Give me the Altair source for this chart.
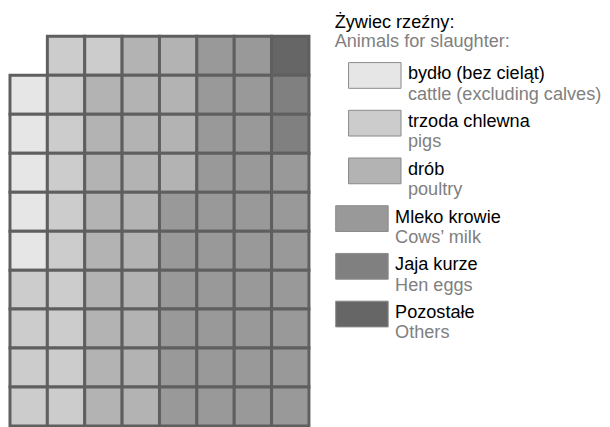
import altair as alt
import pandas as pd

FONT = "Liberation Sans"
FS = 18.3

categories = ["bydlo", "trzoda", "drob", "mleko", "jaja", "pozostale"]
labels_pl = ["bydło (bez cieląt)", "trzoda chlewna", "drób", "Mleko krowie", "Jaja kurze", "Pozostałe"]
labels_en = ["cattle (excluding calves)", "pigs", "poultry", "Cows’ milk", "Hen eggs", "Others"]
colors = ["#e6e6e6", "#cccccc", "#b3b3b3", "#999999", "#808080", "#666666"]
is_animal = [True, True, True, False, False, False]

header_pl = "Żywiec rzeźny:"
header_en = "Animals for slaughter:"

# waffle grid, read row by row from top (C=cattle, P=pigs, D=poultry, M=milk, E=eggs, O=others, -=empty)
grid_rows = [
    "-PPDDMMO",
    "CPDDDMME",
    "CPDDDMME",
    "CPDDDMMM",
    "CPDDMMMM",
    "CPDDMMMM",
    "PPDDMMMM",
    "PPDDMMMM",
    "PPDDMMMM",
    "PPDDMMMM",
]
code_map = {"C": "bydlo", "P": "trzoda", "D": "drob", "M": "mleko", "E": "jaja", "O": "pozostale"}

cells = []
for r, row in enumerate(grid_rows):
    for c, ch in enumerate(row):
        if ch == "-":
            continue
        cells.append({"c0": c, "c1": c + 1, "r0": r, "r1": r + 1, "cat": code_map[ch]})
cells_df = pd.DataFrame(cells)

legend_df = pd.DataFrame({
    "idx": list(range(len(categories))),
    "cat": categories,
    "pl": labels_pl,
    "en": labels_en,
    "animal": is_animal,
})

color_scale = alt.Scale(domain=categories, range=colors)

waffle = alt.Chart(cells_df).mark_rect(stroke="#5f5f5f", strokeWidth=3).encode(
    x=alt.X("c0:Q", scale=alt.Scale(domain=[0, 8]), axis=None),
    x2="c1:Q",
    y=alt.Y("r0:Q", scale=alt.Scale(domain=[0, 10], range=[-15.5, 378.1]), axis=None),
    y2="r1:Q",
    color=alt.Color("cat:N", scale=color_scale, legend=None),
).properties(width=302, height=378)

leg_y = alt.Scale(domain=[0, 5], range=[24, 265])
ybase = alt.Y("idx:Q", scale=leg_y, axis=None)

base = alt.Chart(legend_df)
animals = base.transform_filter("datum.animal")
others = base.transform_filter("!datum.animal")

sw_a = animals.mark_rect(height=26, stroke="#8a8a8a", strokeWidth=1).encode(
    x=alt.value(17), x2=alt.value(70), y=ybase,
    color=alt.Color("cat:N", scale=color_scale, legend=None))
sw_o = others.mark_rect(height=26, stroke="#8a8a8a", strokeWidth=1).encode(
    x=alt.value(4), x2=alt.value(57), y=ybase,
    color=alt.Color("cat:N", scale=color_scale, legend=None))

txt_kw = dict(align="left", baseline="alphabetic", fontSize=FS, font=FONT)
pl_a = animals.mark_text(dy=4, color="#000000", **txt_kw).encode(x=alt.value(77), y=ybase, text="pl:N")
en_a = animals.mark_text(dy=24.5, color="#808080", **txt_kw).encode(x=alt.value(77), y=ybase, text="en:N")
pl_o = others.mark_text(dy=4, color="#000000", **txt_kw).encode(x=alt.value(64), y=ybase, text="pl:N")
en_o = others.mark_text(dy=24.5, color="#808080", **txt_kw).encode(x=alt.value(64), y=ybase, text="en:N")

legend_panel = alt.layer(sw_a, sw_o, pl_a, en_a, pl_o, en_o).properties(
    width=250, height=320,
    title=alt.Title(header_pl, subtitle=header_en, anchor="start", fontSize=FS,
                    fontWeight="normal", color="#000000", font=FONT, dx=3,
                    subtitleFontSize=FS, subtitleColor="#808080", subtitleFont=FONT,
                    subtitlePadding=1, offset=0),
)

chart = alt.hconcat(waffle, legend_panel, spacing=21).properties(
    padding={"left": 0, "top": 3, "right": 0, "bottom": 0}
).configure_view(stroke=None)

chart.save("out.html", embed_options={"renderer": "svg", "actions": False})
